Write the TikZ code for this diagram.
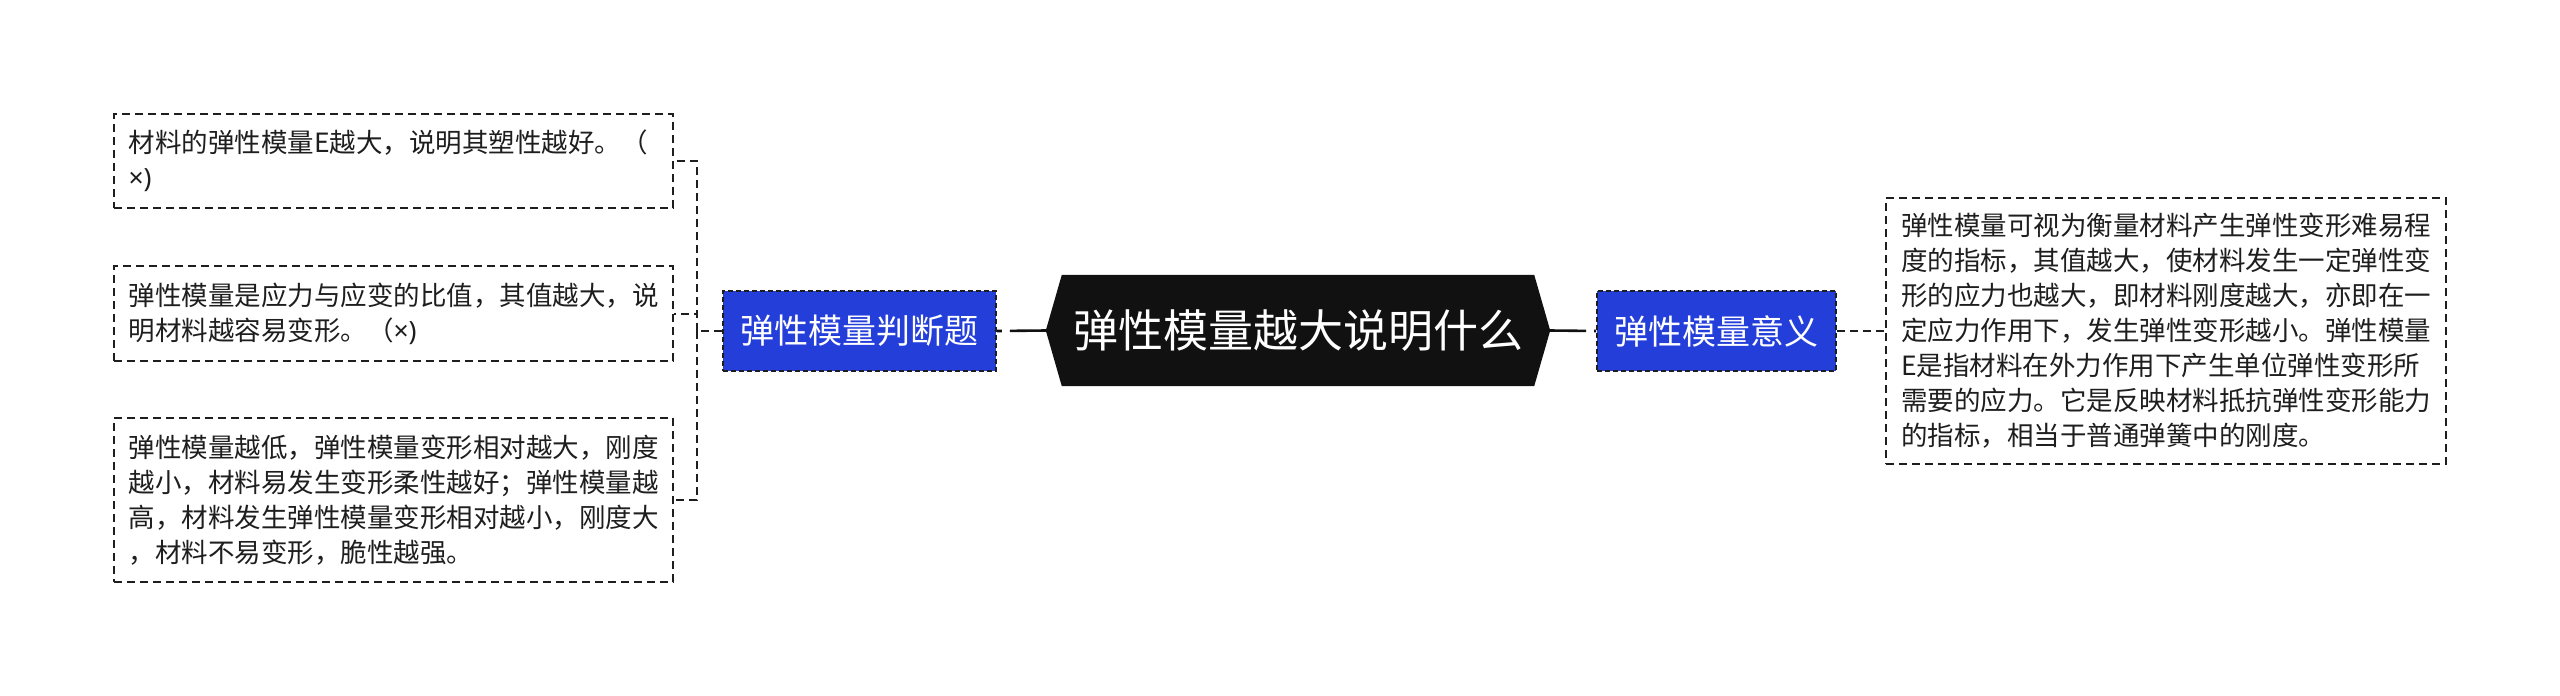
\documentclass[tikz,border=0pt]{standalone}
\usepackage{fontspec}
\setmainfont{Noto Sans CJK SC}
\newfontfamily\latinfont{Noto Sans}
\usetikzlibrary{backgrounds}
\definecolor{bluec}{RGB}{36,62,218}
\definecolor{mainc}{RGB}{17,17,17}
\definecolor{linec}{RGB}{30,30,30}
\definecolor{textc}{RGB}{30,30,30}
\newcommand{\xmark}{{\latinfont ×)}}
\begin{document}
\begin{tikzpicture}[x=1pt,y=-1pt,
  leaf/.style={draw=linec, line width=2pt, dash pattern=on 8pt off 5pt, fill=white,
    text=textc, align=left, text width=530pt, inner xsep=14.5pt, inner ysep=0pt,
    font=\fontsize{26.5pt}{35pt}\selectfont},
  bluebox/.style={draw=linec, line width=2pt, dash pattern=on 5pt off 3pt, fill=bluec,
    text=white, inner xsep=17.5pt, inner ysep=0pt, minimum height=80pt,
    font=\fontsize{34pt}{40pt}\selectfont},
  mainbox/.style={text=white, inner xsep=27pt, inner ysep=0pt, minimum height=111pt,
    minimum width=504pt, font=\fontsize{45pt}{50pt}\selectfont},
  conn/.style={draw=mainc, line width=2.6pt, dash pattern=on 36pt off 8pt on 40pt off 1pt},
  dline/.style={draw=linec, line width=2pt, dash pattern=on 8pt off 5pt}]
\useasboundingbox (0,0) rectangle (2560,696);

\node[leaf, minimum height=94pt] (b1) at (393.5,161) {材料的弹性模量E越大，说明其塑性越好。（\\\xmark};
\node[leaf, minimum height=95pt] (b2) at (393.5,313.5) {弹性模量是应力与应变的比值，其值越大，说\\明材料越容易变形。（\xmark};
\node[leaf, minimum height=164pt] (b3) at (393.5,500) {弹性模量越低，弹性模量变形相对越大，刚度\\越小，材料易发生变形柔性越好；弹性模量越\\高，材料发生弹性模量变形相对越小，刚度大\\，材料不易变形，脆性越强。};

\node[bluebox] (L) at (859.5,331) {弹性模量判断题};
\node[mainbox] (M) at (1298,330.5) {弹性模量越大说明什么};
\node[bluebox] (R) at (1716.5,331) {弹性模量意义};

\node[leaf, inner xsep=15pt, minimum height=266pt] (RB) at (2166,331) {弹性模量可视为衡量材料产生弹性变形难易程\\度的指标，其值越大，使材料发生一定弹性变\\形的应力也越大，即材料刚度越大，亦即在一\\定应力作用下，发生弹性变形越小。弹性模量\\E是指材料在外力作用下产生单位弹性变形所\\需要的应力。它是反映材料抵抗弹性变形能力\\的指标，相当于普通弹簧中的刚度。};

\begin{scope}[on background layer]
  \fill[white] (0,0) rectangle (2560,696);
  \fill[mainc] ([xshift=16pt]M.north west) -- ([xshift=-16pt]M.north east) -- (M.east)
    -- ([xshift=-16pt]M.south east) -- ([xshift=16pt]M.south west) -- (M.west) -- cycle;
\end{scope}

\draw[conn] (M.west) -- (L.east);
\draw[conn] (M.east) -- (R.west);
\draw[dline] (R.east) -- (RB.west);

\coordinate (br) at (697,331);
\draw[dline] (L.west) -- (br);
\draw[dline] (br) |- (b1.east);
\draw[dline] (br) |- (b2.east);
\draw[dline] (br) |- (b3.east);
\end{tikzpicture}
\end{document}
